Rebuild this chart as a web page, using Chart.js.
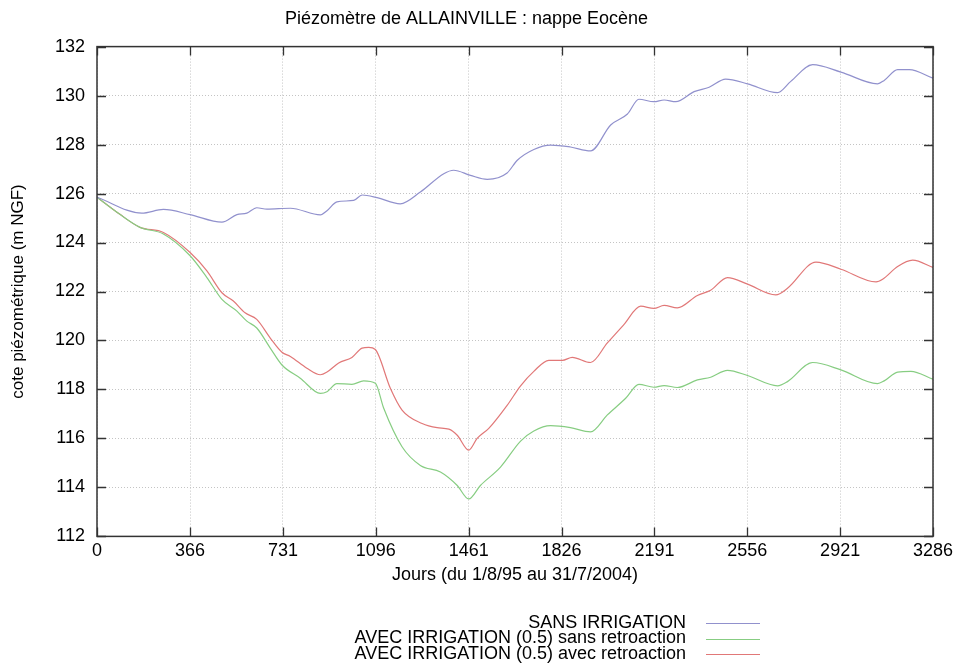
<!DOCTYPE html>
<html>
<head>
<meta charset="utf-8">
<script src="https://cdn.jsdelivr.net/npm/chart.js@4/dist/chart.umd.min.js"></script>
<style>
    html, body { margin: 0; padding: 0; background: #fff; }
    #wrap { width: 958px; height: 670px; }
</style>
</head>
<body>
<div id="wrap"><canvas id="piezo" width="958" height="670"></canvas></div>
<script>
// Tick positions (days since 1/8/95)
const xTicks = [0, 366, 731, 1096, 1461, 1826, 2191, 2556, 2921, 3286];

// SANS IRRIGATION
const sansDays = [0, 176, 261, 366, 491, 550, 589, 628, 668, 760, 878, 904, 943, 1009, 1042, 1101, 1192, 1271, 1363, 1402,
    1468, 1534, 1612, 1652, 1717, 1783, 1861, 1940, 2019, 2085, 2130, 2189, 2229, 2275, 2347, 2406, 2471, 2557, 2675, 2727,
    2813, 2924, 3068, 3094, 3147, 3193, 3286];
const sansLevels = [125.85, 125.2, 125.35, 125.14, 124.83, 125.14, 125.2, 125.42, 125.36, 125.4, 125.13, 125.3, 125.66, 125.72, 125.94, 125.83, 125.58, 126.06, 126.81, 126.95,
    126.74, 126.58, 126.84, 127.36, 127.8, 127.98, 127.9, 127.74, 128.8, 129.25, 129.85, 129.75, 129.82, 129.75, 130.16, 130.34, 130.67, 130.48, 130.12, 130.58,
    131.26, 130.96, 130.48, 130.62, 131.06, 131.06, 130.71];

// AVEC IRRIGATION (0.5) sans retroaction
const sansRetroDays = [0, 90, 169, 261, 366, 432, 491, 550, 589, 628, 681, 727, 799, 878, 904, 943, 1002, 1048, 1094, 1127,
    1199, 1271, 1350, 1416, 1461, 1507, 1586, 1665, 1717, 1783, 1861, 1940, 2006, 2078, 2130, 2189, 2229, 2281, 2360, 2412,
    2478, 2557, 2675, 2714, 2813, 2924, 3068, 3094, 3147, 3199, 3286];
const sansRetroLevels = [125.85, 125.15, 124.62, 124.35, 123.46, 122.57, 121.68, 121.2, 120.79, 120.51, 119.69, 119.0, 118.46, 117.84, 117.91, 118.24, 118.21, 118.35, 118.25, 117.23,
    115.66, 114.9, 114.63, 114.08, 113.53, 114.08, 114.83, 115.89, 116.3, 116.52, 116.44, 116.27, 116.96, 117.64, 118.21, 118.09, 118.16, 118.08, 118.39, 118.5,
    118.78, 118.57, 118.15, 118.32, 119.1, 118.8, 118.24, 118.35, 118.71, 118.74, 118.42];

// AVEC IRRIGATION (0.5) avec retroaction
const avecRetroDays = [0, 90, 169, 261, 366, 432, 491, 536, 582, 628, 681, 727, 760, 825, 878, 904, 950, 1002, 1042, 1068,
    1094, 1153, 1199, 1278, 1337, 1383, 1416, 1461, 1494, 1540, 1612, 1665, 1717, 1776, 1829, 1868, 1940, 2006, 2071, 2137,
    2189, 2229, 2281, 2360, 2412, 2478, 2557, 2668, 2714, 2826, 2924, 3062, 3088, 3147, 3206, 3286];
const avecRetroLevels = [125.85, 125.15, 124.62, 124.41, 123.59, 122.84, 121.95, 121.61, 121.13, 120.86, 120.1, 119.52, 119.35, 118.87, 118.6, 118.71, 119.08, 119.31, 119.69, 119.72,
    119.63, 118.05, 117.16, 116.61, 116.44, 116.38, 116.13, 115.52, 116.0, 116.41, 117.35, 118.15, 118.74, 119.19, 119.19, 119.31, 119.1, 119.9, 120.65, 121.4,
    121.31, 121.43, 121.33, 121.84, 122.05, 122.57, 122.3, 121.86, 122.13, 123.2, 122.91, 122.39, 122.5, 123.02, 123.28, 122.98];

const seriesLabels = [
    'SANS IRRIGATION',
    'AVEC IRRIGATION (0.5) sans retroaction',
    'AVEC IRRIGATION (0.5) avec retroaction'
];
const seriesColors = ['rgb(145,145,205)', 'rgb(135,205,130)', 'rgb(225,120,120)'];

const FONT = "'Liberation Sans', Arial, Helvetica, sans-serif";

function toPoints(days, levels) {
    return days.map((d, i) => ({ x: d, y: levels[i] }));
}

// gnuplot-like frame with inward ticks on all four sides
const framePlugin = {
    id: 'frame',
    afterDatasetsDraw(chart) {
        const { ctx, chartArea: a, scales } = chart;
        ctx.save();
        ctx.strokeStyle = '#333';
        ctx.lineWidth = 1.3;
        ctx.beginPath();
        scales.y.ticks.forEach(t => {
            const py = Math.round(scales.y.getPixelForValue(t.value)) + 0.5;
            ctx.moveTo(a.left, py); ctx.lineTo(a.left + 9, py);
            ctx.moveTo(a.right, py); ctx.lineTo(a.right - 9, py);
        });
        scales.x.ticks.forEach(t => {
            const px = Math.round(scales.x.getPixelForValue(t.value)) + 0.5;
            ctx.moveTo(px, a.bottom); ctx.lineTo(px, a.bottom - 9);
            ctx.moveTo(px, a.top); ctx.lineTo(px, a.top + 9);
        });
        ctx.stroke();
        ctx.lineWidth = 1.5;
        ctx.strokeRect(a.left, a.top, a.right - a.left, a.bottom - a.top);
        ctx.restore();
    }
};

// legend at the bottom right: text right-aligned, line sample after it
const keyPlugin = {
    id: 'key',
    afterDraw(chart) {
        const ctx = chart.ctx;
        ctx.save();
        ctx.font = '18px ' + FONT;
        ctx.textAlign = 'right';
        ctx.textBaseline = 'middle';
        chart.data.datasets.forEach((ds, i) => {
            const y = 623 + i * 15.5;
            ctx.fillStyle = '#000';
            ctx.fillText(ds.label, 686, y);
            ctx.strokeStyle = ds.borderColor;
            ctx.lineWidth = 1.2;
            ctx.beginPath();
            ctx.moveTo(706, Math.round(y) + 0.5);
            ctx.lineTo(760, Math.round(y) + 0.5);
            ctx.stroke();
        });
        ctx.restore();
    }
};

const ctx = document.getElementById('piezo').getContext('2d');
new Chart(ctx, {
    type: 'line',
    data: {
        datasets: [
            { label: seriesLabels[0], data: toPoints(sansDays, sansLevels) },
            { label: seriesLabels[1], data: toPoints(sansRetroDays, sansRetroLevels) },
            { label: seriesLabels[2], data: toPoints(avecRetroDays, avecRetroLevels) }
        ].map((ds, i) => Object.assign(ds, {
            borderColor: seriesColors[i],
            backgroundColor: seriesColors[i],
            borderWidth: 1.2,
            pointRadius: 0,
            fill: false,
            cubicInterpolationMode: 'monotone'
        }))
    },
    options: {
        responsive: false,
        animation: false,
        layout: { padding: { top: 0, left: 0, right: 25, bottom: 82 } },
        plugins: {
            legend: { display: false },
            tooltip: { enabled: false },
            title: {
                display: true,
                text: 'Piézomètre de ALLAINVILLE : nappe Eocène',
                color: '#000',
                font: { family: FONT, size: 18, weight: 'normal' },
                padding: { top: 8, bottom: 17 }
            }
        },
        scales: {
            x: {
                type: 'linear',
                min: 0,
                max: 3286,
                afterBuildTicks: scale => { scale.ticks = xTicks.map(v => ({ value: v })); },
                grid: { color: '#c4c4c4', drawTicks: false },
                border: { display: false, dash: [1, 2] },
                ticks: {
                    color: '#000', padding: 4, maxRotation: 0, font: { family: FONT, size: 18 },
                    callback: v => String(v)
                },
                title: {
                    display: true,
                    text: 'Jours (du 1/8/95 au 31/7/2004)',
                    color: '#000',
                    font: { family: FONT, size: 18, lineHeight: 1 },
                    padding: { top: 0, bottom: 4 }
                }
            },
            y: {
                min: 112,
                max: 132,
                ticks: { stepSize: 2, color: '#000', padding: 12, font: { family: FONT, size: 18 } },
                grid: { color: '#c4c4c4', drawTicks: false },
                border: { display: false, dash: [1, 2] },
                afterFit: scale => { scale.width = 97; },
                title: {
                    display: true,
                    text: 'cote piézométrique (m NGF)',
                    color: '#000',
                    font: { family: FONT, size: 17 },
                    padding: { top: 8, bottom: 0 }
                }
            }
        }
    },
    plugins: [framePlugin, keyPlugin]
});
</script>
</body>
</html>
